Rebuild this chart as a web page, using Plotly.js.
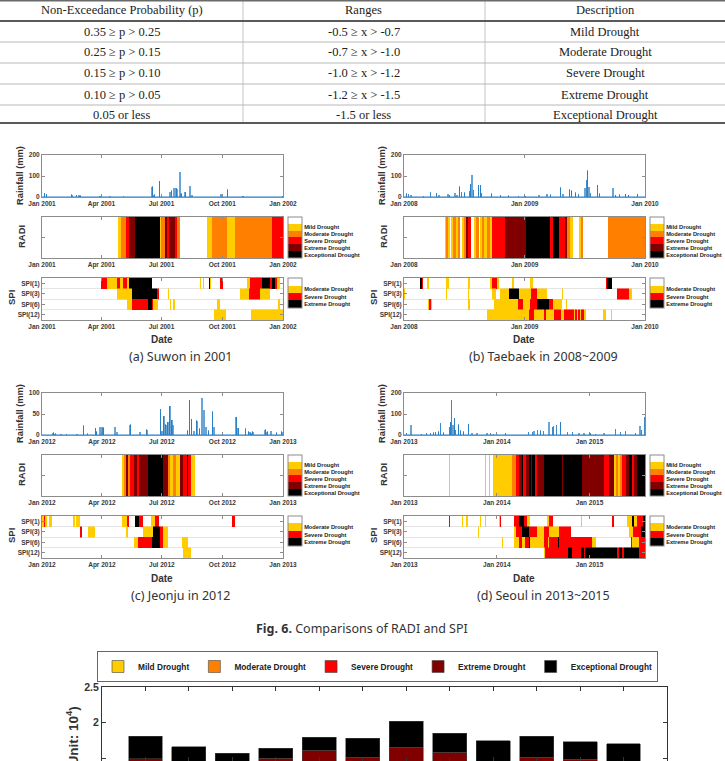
<!DOCTYPE html>
<html>
<head>
<meta charset="utf-8">
<script src="https://cdn.plot.ly/plotly-3.0.1.min.js"></script>
<style>
  html, body { margin: 0; padding: 0; background: #fff; }
  #fig { width: 725px; height: 761px; }
</style>
</head>
<body>
<div id="fig"></div>
<script>
// ---------- Drought classification table ----------
const tableHeader = ['Non-Exceedance Probability (p)', 'Ranges', 'Description'];
const probCol  = ['0.35 \u2265 p > 0.25', '0.25 \u2265 p > 0.15', '0.15 \u2265 p > 0.10', '0.10 \u2265 p > 0.05', '0.05 or less'];
const rangeCol = ['-0.5 \u2265 x > -0.7', '-0.7 \u2265 x > -1.0', '-1.0 \u2265 x > -1.2', '-1.2 \u2265 x > -1.5', '-1.5 or less'];
const descCol  = ['Mild Drought', 'Moderate Drought', 'Severe Drought', 'Extreme Drought', 'Exceptional Drought'];

// ---------- Classes and colours ----------
const radiLabels = ['Mild Drought', 'Moderate Drought', 'Severe Drought', 'Extreme Drought', 'Exceptional Drought'];
const radiColors = ['#ffffff', '#ffcc00', '#ff8000', '#ff0000', '#800000', '#000000'];
const spiLabels  = ['Moderate Drought', 'Severe Drought', 'Extreme Drought'];
const spiColors  = ['rgba(255,255,255,0)', '#ffcc00', '#ff0000', '#000000'];
const spiRows    = ['SPI(1)', 'SPI(3)', 'SPI(6)', 'SPI(12)'];

// ---------- Station periods ----------
const stationStart = ['2001-01-01', '2008-01-01', '2012-01-01', '2013-01-01'];
const stationDays  = [365, 731, 366, 948];
const stationTickStep = ['M3', 'M12', 'M3', 'M12'];
const rainTop   = [200, 200, 100, 200];
const rainTicks = [[0, 100, 200], [0, 100, 200], [0, 50, 100], [0, 100, 200]];
const captions  = ['(a) Suwon in 2001', '(b) Taebaek in 2008~2009', '(c) Jeonju in 2012', '(d) Seoul in 2013~2015'];

// ---------- Daily rainfall (day offset from period start, mm) ----------
const rainDaySuwon = [4,7,45,52,56,58,88,103,123,141,167,170,178,181,194,196,200,203,204,209,211,217,224,227,271,281,304,341,364];
const rainMmSuwon  = [19,12,10,8,10,6,3,3,2,2,48,10,76,5,24,30,43,45,40,119,15,23,53,10,12,35,3,2,3];
const rainDayTaebaek = [8,13,21,59,81,99,106,133,137,155,161,168,175,183,198,202,206,210,226,232,236,265,292,317,348,368,409,434,444,475,482,502,508,520,530,549,553,557,561,565,587,593,634,642,654,672,681,708];
const rainMmTaebaek  = [15,12,10,3,23,18,8,12,8,20,10,50,25,20,30,60,105,35,55,55,20,15,8,5,3,3,8,15,10,45,12,35,30,20,15,45,80,125,50,20,55,15,45,8,10,12,8,12];
const rainDayJeonju = [17,20,29,37,53,63,69,81,83,88,91,93,111,114,134,149,159,180,182,185,188,191,194,197,199,221,224,227,231,235,239,243,246,249,253,259,261,295,298,309,314,317,320,339,342,348,356,364];
const rainMmJeonju  = [5,3,2,2,3,22,3,16,8,20,18,17,18,8,24,8,13,61,10,45,25,30,68,35,24,10,83,37,10,34,15,87,59,20,10,55,20,42,16,15,8,5,8,12,8,10,5,8];
const rainDaySeoul = [11,28,70,89,103,116,125,136,145,155,178,183,188,193,199,204,214,222,234,254,267,287,326,339,353,399,491,504,511,524,537,550,570,583,589,599,616,642,664,688,708,734,754,787,833,853,872,912,928,935,945];
const rainMmSeoul  = [10,48,5,8,8,10,12,15,56,10,40,60,169,50,80,25,48,20,15,52,10,8,8,10,5,8,12,15,20,25,20,18,60,40,45,50,60,12,15,8,10,8,5,8,29,15,20,10,44,25,84];

// ---------- RADI class runs (edge day offsets, class per run) ----------
const radiEdgeSuwon  = [0,115,119,127,131,141,178,180,186,189,192,202,205,209,250,258,280,292,348,365];
const radiClassSuwon = [0,1,2,3,4,5,1,2,4,3,4,3,2,0,1,2,1,2,3];
const radiEdgeTaebaek  = [0,123,127,133,139,143,150,157,165,171,175,181,188,194,204,211,218,226,232,238,244,252,262,267,305,370,444,451,470,488,495,502,512,530,536,538,543,618,731];
const radiClassTaebaek = [0,1,2,1,0,1,2,1,2,0,1,2,4,3,0,1,2,0,1,2,1,2,1,3,4,5,3,5,3,4,2,1,0,1,0,2,0,2];
const radiEdgeJeonju  = [0,121,125,128,131,134,139,145,148,161,184,192,194,199,203,209,214,220,222,226,232,366];
const radiClassJeonju = [0,1,2,4,2,3,4,3,4,5,4,2,1,2,1,4,3,5,3,1,0];
const radiEdgeSeoul  = [0,176,179,320,322,326,328,333,337,350,425,441,451,465,470,478,490,500,504,517,522,530,550,622,626,701,787,807,826,833,840,848,859,872,885,898,905,918,948];
const radiClassSeoul = [0,1,0,1,0,1,0,1,0,1,2,3,4,5,3,4,5,4,5,3,4,4,5,4,5,4,3,4,1,2,1,2,3,4,5,3,4,5];

// ---------- SPI class runs per time scale ----------
const spi1EdgeSuwon  = [0,89,98,113,118,123,128,132,166,239,241,244,246,253,255,256,270,274,310,315,333,346,348,353,356,360,365];
const spi1ClassSuwon = [0,2,1,2,1,2,1,3,0,1,0,1,0,3,1,0,2,0,1,2,3,2,3,2,1,0];
const spi3EdgeSuwon  = [0,114,137,174,177,191,193,300,313,330,346,365];
const spi3ClassSuwon = [0,1,3,2,0,1,0,1,2,1,0];
const spi6EdgeSuwon  = [0,128,136,161,166,168,176,194,196,198,201,265,270,358,361,365];
const spi6ClassSuwon = [0,1,2,3,2,1,0,1,0,1,0,1,0,1,0];
const spi12EdgeSuwon  = [0,260,279,316,365];
const spi12ClassSuwon = [0,1,0,1];

const spi1EdgeTaebaek  = [0,47,49,55,58,71,77,128,136,194,200,262,268,281,287,327,333,383,390,612,615,632,731];
const spi1ClassTaebaek = [0,2,3,2,0,1,0,1,0,1,0,1,2,1,0,1,0,1,0,2,3,0];
const spi3EdgeTaebaek  = [0,3,128,131,194,198,268,280,290,317,350,385,404,434,480,483,646,683,693,731];
const spi3ClassTaebaek = [1,0,1,0,1,0,1,0,1,3,1,2,1,0,1,0,2,1,0];
const spi6EdgeTaebaek  = [0,72,75,82,84,194,199,272,345,361,383,404,439,451,478,490,495,731];
const spi6ClassTaebaek = [0,1,2,1,0,1,0,1,2,1,2,3,2,1,0,1,0];
const spi12EdgeTaebaek  = [0,252,378,394,424,426,430,454,475,485,515,518,525,528,535,538,546,551,603,614,627,630,731];
const spi12ClassTaebaek = [0,1,2,1,3,2,1,2,1,2,1,2,1,2,1,2,1,0,1,0,1,0];

const spi1EdgeJeonju  = [0,3,4,7,11,15,47,50,52,58,121,129,132,141,148,154,166,172,178,289,293,366];
const spi1ClassJeonju = [1,2,1,0,1,0,1,0,1,0,1,2,0,3,2,0,1,2,0,2,0];
const spi3EdgeJeonju  = [0,57,61,70,80,128,131,154,169,179,184,192,366];
const spi3ClassJeonju = [0,2,0,1,0,1,0,1,3,2,1,0];
const spi6EdgeJeonju  = [0,139,146,167,179,184,192,212,222,366];
const spi6ClassJeonju = [0,1,2,3,2,1,0,1,0];
const spi12EdgeJeonju  = [0,214,226,366];
const spi12ClassJeonju = [0,1,0];

const spi1EdgeSeoul  = [0,62,64,177,180,228,232,243,251,300,304,317,322,372,376,383,432,451,471,484,497,563,570,585,695,701,820,826,879,898,905,918,940,948];
const spi1ClassSeoul = [0,1,0,2,0,1,0,1,0,1,0,1,0,1,2,0,2,3,2,1,0,1,2,0,1,0,2,0,1,3,1,2,3];
const spi3EdgeSeoul  = [0,293,295,432,441,465,491,524,550,570,609,655,885,902,932,948];
const spi3ClassSeoul = [0,1,0,1,2,3,2,1,2,1,2,0,1,2,3];
const spi6EdgeSeoul  = [0,385,388,432,451,464,477,490,497,550,566,570,605,609,741,754,892,898,925,948];
const spi6ClassSeoul = [0,1,0,1,2,1,2,3,1,2,1,2,3,2,1,0,2,1,2];
const spi12EdgeSeoul  = [0,552,556,646,659,695,708,712,839,846,859,866,925,948];
const spi12ClassSeoul = [0,1,2,3,2,3,2,3,2,3,2,3,2];

// ---------- Drought totals by class (unit: 10^4) ----------
const barCategories = [1,2,3,4,5,6,7,8,9,10,11,12];
const mildTotal        = [0.28,0.26,0.25,0.27,0.29,0.27,0.30,0.28,0.26,0.27,0.26,0.25];
const moderateTotal    = [0.36,0.34,0.33,0.35,0.37,0.35,0.38,0.36,0.34,0.35,0.34,0.33];
const severeTotal      = [0.30,0.28,0.27,0.29,0.31,0.29,0.32,0.30,0.28,0.29,0.28,0.27];
const extremeTotal     = [0.55,0.55,0.57,0.59,0.64,0.60,0.65,0.64,0.56,0.60,0.60,0.58];
const exceptionalTotal = [0.32,0.23,0.15,0.14,0.18,0.27,0.37,0.27,0.30,0.30,0.25,0.27];

// ---------- Helpers ----------
const W = 725, H = 761;
const fx = p => p / W;          // page pixel -> paper x
const fy = p => 1 - p / H;      // page pixel -> paper y
const dayToDate = (start, d) =>
  new Date(Date.parse(start + 'T00:00:00Z') + d * 86400000).toISOString().slice(0, 10);
// discrete colour steps; classes are plotted as negative codes so that the
// colour bar lists the classes from the top down
const stepScale = cols => {
  const rev = cols.slice().reverse(), n = rev.length, s = [];
  rev.forEach((c, i) => { s.push([i / n, c]); s.push([(i + 1) / n, c]); });
  return s;
};
const neg = arr => arr.map(v => -v);
const sfx = n => (n === 1 ? '' : String(n));

const sansBold = (size, color) => ({ family: 'Liberation Sans, Arial, sans-serif', size: size, color: color || '#333', weight: 'bold' });
const tickFont = sansBold(6.5, '#3a3a3a');

const stations = [
  { rainDay: rainDaySuwon, rainMm: rainMmSuwon, radiEdge: radiEdgeSuwon, radiClass: radiClassSuwon,
    spi: [[spi1EdgeSuwon, spi1ClassSuwon], [spi3EdgeSuwon, spi3ClassSuwon], [spi6EdgeSuwon, spi6ClassSuwon], [spi12EdgeSuwon, spi12ClassSuwon]] },
  { rainDay: rainDayTaebaek, rainMm: rainMmTaebaek, radiEdge: radiEdgeTaebaek, radiClass: radiClassTaebaek,
    spi: [[spi1EdgeTaebaek, spi1ClassTaebaek], [spi3EdgeTaebaek, spi3ClassTaebaek], [spi6EdgeTaebaek, spi6ClassTaebaek], [spi12EdgeTaebaek, spi12ClassTaebaek]] },
  { rainDay: rainDayJeonju, rainMm: rainMmJeonju, radiEdge: radiEdgeJeonju, radiClass: radiClassJeonju,
    spi: [[spi1EdgeJeonju, spi1ClassJeonju], [spi3EdgeJeonju, spi3ClassJeonju], [spi6EdgeJeonju, spi6ClassJeonju], [spi12EdgeJeonju, spi12ClassJeonju]] },
  { rainDay: rainDaySeoul, rainMm: rainMmSeoul, radiEdge: radiEdgeSeoul, radiClass: radiClassSeoul,
    spi: [[spi1EdgeSeoul, spi1ClassSeoul], [spi3EdgeSeoul, spi3ClassSeoul], [spi6EdgeSeoul, spi6ClassSeoul], [spi12EdgeSeoul, spi12ClassSeoul]] }
];
const panelOffset = [[0, 0], [362, 0], [0, 238], [362, 238]];

const traces = [];
const layout = {
  width: W, height: H, autosize: false,
  margin: { l: 0, r: 0, t: 0, b: 0 },
  paper_bgcolor: '#fff', plot_bgcolor: 'rgba(0,0,0,0)',
  barmode: 'stack', showlegend: true,
  annotations: [], shapes: []
};
const hline = (y, w, color) => layout.shapes.push({
  type: 'line', xref: 'paper', yref: 'paper', x0: 0, x1: 1, y0: fy(y), y1: fy(y),
  line: { color: color, width: w }
});

const frameAxis = () => ({
  showline: true, mirror: 'ticks', linecolor: '#8c8c8c', linewidth: 1,
  ticks: 'inside', ticklen: 3, tickcolor: '#8c8c8c', tickwidth: 1,
  showgrid: false, zeroline: false, tickfont: tickFont, fixedrange: true
});

// ---------- Table (ruled lines and centred cell text) ----------
const tableRowEdges = [0, 21, 42, 63, 84, 105, 124];
const tableColEdges = [0, 243, 485, 725];
const tableFont = { family: 'Liberation Serif, Times New Roman, serif', size: 12.5, color: '#222' };
const tableBody = [probCol, rangeCol, descCol];
[243, 485].forEach(x => layout.shapes.push({
  type: 'line', xref: 'paper', yref: 'paper', x0: fx(x), x1: fx(x), y0: fy(124), y1: fy(0),
  line: { color: '#c4c4c4', width: 1 }
}));
tableRowEdges.slice(2, -1).forEach(y => hline(y, 1, '#b8b8b8'));
hline(0.8, 1.6, '#6a6a6a');
hline(21, 2.2, '#5a5a5a');
hline(123, 2.2, '#5a5a5a');
[tableHeader].concat(descCol.map((_, r) => tableBody.map(col => col[r]))).forEach((row, r) => {
  row.forEach((txt, c) => layout.annotations.push({
    text: txt, xref: 'paper', yref: 'paper',
    x: fx((tableColEdges[c] + tableColEdges[c + 1]) / 2),
    y: fy((tableRowEdges[r] + tableRowEdges[r + 1]) / 2),
    xanchor: 'center', yanchor: 'middle', showarrow: false, font: tableFont
  }));
});

// ---------- Station panels ----------
stations.forEach((st, p) => {
  const [ox, oy] = panelOffset[p];
  const start = stationStart[p];
  const end = dayToDate(start, stationDays[p]);
  const nRain = 3 * p + 1, nRadi = 3 * p + 2, nSpi = 3 * p + 3;
  const xDom = [fx(42 + ox), fx(283 + ox)];

  const dateAxis = (anchorN) => Object.assign(frameAxis(), {
    type: 'date', domain: xDom, range: [start, end], anchor: 'y' + sfx(anchorN),
    tick0: start, dtick: stationTickStep[p], tickformat: '%b %Y'
  });

  // rainfall
  layout['xaxis' + sfx(nRain)] = dateAxis(nRain);
  layout['yaxis' + sfx(nRain)] = Object.assign(frameAxis(), {
    domain: [fy(197 + oy), fy(155 + oy)], range: [0, rainTop[p]], anchor: 'x' + sfx(nRain),
    tickvals: rainTicks[p]
  });
  traces.push({
    type: 'bar', xaxis: 'x' + sfx(nRain), yaxis: 'y' + sfx(nRain),
    x: st.rainDay.map(d => dayToDate(start, d)), y: st.rainMm, width: 86400000,
    marker: { color: '#2a7fc4', line: { color: '#2a7fc4', width: 0.7 } },
    showlegend: false, hoverinfo: 'skip'
  });
  layout.shapes.push({
    type: 'line', xref: 'x' + sfx(nRain) + ' domain', yref: 'y' + sfx(nRain),
    x0: 0, x1: 1, y0: 0, y1: 0, line: { color: '#2a7fc4', width: 1 }
  });

  // RADI strip
  const caRadi = 'coloraxis' + sfx(2 * p + 1), caSpi = 'coloraxis' + sfx(2 * p + 2);
  layout['xaxis' + sfx(nRadi)] = dateAxis(nRadi);
  layout['yaxis' + sfx(nRadi)] = Object.assign(frameAxis(), {
    domain: [fy(258 + oy), fy(217 + oy)], range: [0, 1], anchor: 'x' + sfx(nRadi),
    tickvals: [0.5], showticklabels: false
  });
  traces.push({
    type: 'heatmap', xaxis: 'x' + sfx(nRadi), yaxis: 'y' + sfx(nRadi),
    x: st.radiEdge.map(d => dayToDate(start, d)), y: [0, 1], z: [neg(st.radiClass)],
    coloraxis: caRadi, hoverinfo: 'skip'
  });
  layout[caRadi] = {
    cmin: -5.5, cmax: 0.5, colorscale: stepScale(radiColors),
    colorbar: {
      x: fx(288 + ox), xanchor: 'left', y: fy(217 + oy), yanchor: 'top',
      len: 41, lenmode: 'pixels', thickness: 14, thicknessmode: 'pixels',
      xpad: 0, ypad: 0, outlinewidth: 1, outlinecolor: '#8c8c8c',
      tickvals: [-1, -2, -3, -4, -5], ticktext: radiLabels, ticks: '', ticklen: 0,
      tickfont: sansBold(5.7, '#222')
    }
  };

  // SPI strips
  layout['xaxis' + sfx(nSpi)] = dateAxis(nSpi);
  layout['yaxis' + sfx(nSpi)] = Object.assign(frameAxis(), {
    domain: [fy(320 + oy), fy(278 + oy)], range: [3.5, -0.5], anchor: 'x' + sfx(nSpi),
    tickvals: [0, 1, 2, 3], ticktext: spiRows,
    minor: { tickvals: [0.5, 1.5, 2.5], showgrid: true, gridcolor: '#e4e4e4', gridwidth: 1, ticks: '' }
  });
  st.spi.forEach(([edges, cls], k) => traces.push({
    type: 'heatmap', xaxis: 'x' + sfx(nSpi), yaxis: 'y' + sfx(nSpi),
    x: edges.map(d => dayToDate(start, d)), y: [k - 0.5, k + 0.5], z: [neg(cls)],
    coloraxis: caSpi, hoverinfo: 'skip'
  }));
  layout[caSpi] = {
    cmin: -3.5, cmax: 0.5, colorscale: stepScale(spiColors),
    colorbar: {
      x: fx(288 + ox), xanchor: 'left', y: fy(278 + oy), yanchor: 'top',
      len: 30, lenmode: 'pixels', thickness: 14, thicknessmode: 'pixels',
      xpad: 0, ypad: 0, outlinewidth: 1, outlinecolor: '#8c8c8c',
      tickvals: [-1, -2, -3], ticktext: spiLabels, ticks: '', ticklen: 0,
      tickfont: sansBold(5.7, '#222')
    }
  };

  // panel titles
  const ann = (text, x, y, font, extra) => layout.annotations.push(Object.assign({
    text: text, xref: 'paper', yref: 'paper', x: fx(x), y: fy(y),
    xanchor: 'center', yanchor: 'middle', showarrow: false, font: font
  }, extra || {}));
  ann('Rainfall (mm)', 20 + ox, 176 + oy, sansBold(9.3, '#333'), { textangle: -90 });
  ann('RADI', 21 + ox, 237 + oy, sansBold(9.5, '#333'), { textangle: -90 });
  ann('SPI', 11 + ox, 298 + oy, sansBold(9.5, '#333'), { textangle: -90 });
  ann('Date', 162 + ox, 340 + oy, sansBold(10, '#333'));
  ann(captions[p], 181 + ox, 356 + oy + (p > 1 ? 1 : 0), { family: 'Noto Sans, Open Sans, sans-serif', size: 12.5, color: '#333' });
});

layout.annotations.push({
  text: '<b>Fig. 6.</b> Comparisons of RADI and SPI', xref: 'paper', yref: 'paper',
  x: fx(362), y: fy(628), xanchor: 'center', yanchor: 'middle', showarrow: false,
  font: { family: 'Noto Sans, Open Sans, sans-serif', size: 12.5, color: '#333' }
});

// ---------- Stacked bar chart ----------
const nBar = 13;
layout['xaxis' + nBar] = Object.assign(frameAxis(), {
  domain: [fx(102), fx(667)], range: [0, 13], anchor: 'y' + nBar,
  tickvals: barCategories, showticklabels: false, linecolor: '#333', tickcolor: '#333', ticklen: 4
});
layout['yaxis' + nBar] = Object.assign(frameAxis(), {
  domain: [0, fy(687)], range: [1.458, 2.5], anchor: 'x' + nBar,
  tickvals: [1.5, 2, 2.5], ticktext: ['1.5', '2', '2.5'],
  linecolor: '#333', tickcolor: '#333', ticklen: 4, tickfont: sansBold(10.5, '#333')
});
const barSeries = [
  ['Mild Drought', mildTotal, '#ffcc00'],
  ['Moderate Drought', moderateTotal, '#ff8000'],
  ['Severe Drought', severeTotal, '#ff0000'],
  ['Extreme Drought', extremeTotal, '#800000'],
  ['Exceptional Drought', exceptionalTotal, '#000000']
];
barSeries.forEach(([name, vals, color]) => traces.push({
  type: 'bar', name: name, x: barCategories, y: vals, width: 0.78,
  xaxis: 'x' + nBar, yaxis: 'y' + nBar,
  marker: { color: color, line: { color: '#444', width: 0.6 } },
  hoverinfo: 'skip'
}));
layout.legend = {
  orientation: 'h', x: fx(97), y: fy(651), xanchor: 'left', yanchor: 'top',
  traceorder: 'normal', bordercolor: '#666', borderwidth: 1, bgcolor: '#fff',
  font: { family: 'Liberation Sans, Arial, sans-serif', size: 8.3, color: '#222', weight: 'bold' },
  itemwidth: 30, tracegroupgap: 0
};
layout.annotations.push({
  text: '(Unit: 10<sup>4</sup>)', xref: 'paper', yref: 'paper', x: fx(72), y: fy(704),
  xanchor: 'center', yanchor: 'top', textangle: -90, showarrow: false,
  font: sansBold(13.5, '#333')
});

Plotly.newPlot('fig', traces, layout, { staticPlot: true, displayModeBar: false });
</script>
</body>
</html>
